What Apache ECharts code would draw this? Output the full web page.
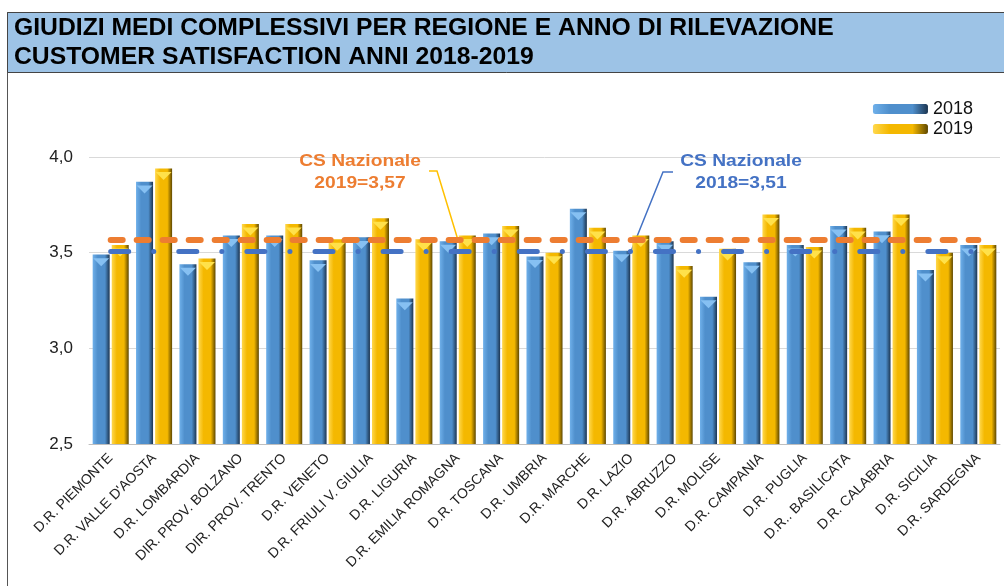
<!DOCTYPE html>
<html lang="it">
<head>
  <meta charset="UTF-8">
  <title>Giudizi medi complessivi</title>
  <style>
    html, body { margin: 0; padding: 0; background: #fff; }
    #main { width: 1004px; height: 586px; }
  </style>
</head>
<body>
  <div id="main"></div>
  <script src="https://cdn.jsdelivr.net/npm/echarts@6/dist/echarts.min.js"></script>
  <script>
    // dati
    const regioni = [
      'D.R. PIEMONTE', "D.R. VALLE D'AOSTA", 'D.R. LOMBARDIA', 'DIR. PROV. BOLZANO',
      'DIR. PROV. TRENTO', 'D.R. VENETO', 'D.R. FRIULI V. GIULIA', 'D.R. LIGURIA',
      'D.R. EMILIA ROMAGNA', 'D.R. TOSCANA', 'D.R. UMBRIA', 'D.R. MARCHE', 'D.R. LAZIO',
      'D.R. ABRUZZO', 'D.R. MOLISE', 'D.R. CAMPANIA', 'D.R. PUGLIA', 'D.R.. BASILICATA',
      'D.R. CALABRIA', 'D.R. SICILIA', 'D.R. SARDEGNA'
    ]
    const anni = ['2018', '2019']
    const val2018 = [3.49, 3.87, 3.44, 3.59, 3.59, 3.46, 3.58, 3.26, 3.56, 3.60, 3.48,
                     3.73, 3.51, 3.56, 3.27, 3.45, 3.54, 3.64, 3.61, 3.41, 3.54]
    const val2019 = [3.54, 3.94, 3.47, 3.65, 3.65, 3.57, 3.68, 3.57, 3.59, 3.64, 3.50,
                     3.63, 3.59, 3.43, 3.52, 3.70, 3.53, 3.63, 3.70, 3.50, 3.54]
    const csNazionale = { '2018': 3.51, '2019': 3.57 }
    const yTicks = [2.5, 3.0, 3.5, 4.0]

    const BLU = '#4472c4'
    const ARANCIO = '#ed7d31'
    const ORO = '#ffc000'
    const FONT = '"Liberation Sans", Arial, sans-serif'

    function grad(light, mid, dark) {
      return new echarts.graphic.LinearGradient(0, 0, 1, 0, [
        { offset: 0, color: light },
        { offset: 0.3, color: mid },
        { offset: 0.72, color: mid },
        { offset: 1, color: dark }
      ])
    }

    function refLine(val, colore, larghezza, tratto) {
      return [
        { coord: [regioni[0], val], lineStyle: { color: colore, width: larghezza, type: tratto, cap: 'round' } },
        { coord: [regioni[regioni.length - 1], val] }
      ]
    }

    function punta(nome, valori, colore) {
      return {
        name: nome,
        type: 'pictorialBar',
        data: valori,
        barWidth: 17,
        barGap: '12%',
        symbol: 'triangle',
        symbolRotate: 180,
        symbolSize: [16, 8],
        symbolPosition: 'end',
        symbolOffset: [0, '45%'],
        itemStyle: { color: colore },
        z: 3
      }
    }

    const myChart = echarts.init(document.getElementById('main'))

    const option = {
      animation: false,
      textStyle: { fontFamily: FONT },
      legend: {
        data: anni,
        orient: 'vertical',
        right: 26,
        top: 95,
        itemWidth: 55,
        itemHeight: 10,
        itemGap: 2,
        textStyle: { fontSize: 18, color: '#111' }
      },
      grid: { left: 89, right: 4, top: 157, bottom: 142 },
      xAxis: {
        type: 'category',
        data: regioni,
        axisLine: { lineStyle: { color: '#bfbfbf', width: 1 } },
        axisTick: { show: false },
        axisLabel: { interval: 0, rotate: 45, fontSize: 14, color: '#222', margin: 12 }
      },
      yAxis: {
        type: 'value',
        min: yTicks[0],
        max: yTicks[yTicks.length - 1],
        interval: 0.5,
        axisLine: { show: false },
        axisTick: { show: false },
        splitLine: { lineStyle: { color: '#d9d9d9', width: 1 } },
        axisLabel: {
          fontSize: 17, color: '#222', margin: 16,
          formatter: v => v.toFixed(1).replace('.', ',')
        }
      },
      series: [
        {
          name: '2018',
          type: 'bar',
          data: val2018,
          barWidth: 17,
          barGap: '12%',
          itemStyle: { color: grad('#6fb0ea', '#4f8fcc', '#1c3550') }
        },
        {
          name: '2019',
          type: 'bar',
          data: val2019,
          barWidth: 17,
          barGap: '12%',
          itemStyle: { color: grad('#ffd84d', '#f4b800', '#5e4700') }
        },
        // punta "a piramide" in cima alle barre
        punta('punta2018', val2018, '#86c0f2'),
        punta('punta2019', val2019, '#ffe14a'),
        // medie nazionali
        {
          name: 'CS Nazionale',
          type: 'line',
          data: [],
          z: 5,
          markLine: {
            silent: true,
            symbol: 'none',
            label: { show: false },
            data: [
              refLine(csNazionale['2018'], BLU, 5, [18, 25, 0.1, 25]),
              refLine(csNazionale['2019'], ARANCIO, 6, [12, 14])
            ]
          }
        }
      ]
    }
    myChart.setOption(option)

    // intestazione e annotazioni
    const pOr = myChart.convertToPixel({ seriesIndex: 1 }, ['D.R. EMILIA ROMAGNA', csNazionale['2019']])
    const pBl = myChart.convertToPixel({ seriesIndex: 0 }, ['D.R. LAZIO', csNazionale['2018']])
    const fmt = v => v.toFixed(2).replace('.', ',')

    function titolo(testo, y) {
      return {
        type: 'text', silent: true, x: 14, y: y, scaleX: 1.075,
        style: {
          text: testo, font: 'bold 23px ' + FONT, fill: '#000',
          align: 'left', verticalAlign: 'middle'
        }
      }
    }

    function nota(testo, x, colore) {
      return {
        type: 'text', silent: true, x: x, y: 173, scaleX: 1.2,
        style: {
          text: testo, font: 'bold 16px ' + FONT, fill: colore,
          align: 'center', verticalAlign: 'middle', lineHeight: 22
        }
      }
    }

    myChart.setOption({
      graphic: [
        {
          type: 'line', silent: true,
          shape: { x1: 7.5, y1: 12, x2: 7.5, y2: 586 },
          style: { stroke: '#555', lineWidth: 1 }
        },
        {
          type: 'rect', silent: true,
          shape: { x: 7.5, y: 12.5, width: 1000, height: 60 },
          style: { fill: '#9dc3e6', stroke: '#444', lineWidth: 1 }
        },
        titolo('GIUDIZI MEDI COMPLESSIVI PER REGIONE E ANNO DI RILEVAZIONE', 29),
        titolo('CUSTOMER SATISFACTION ANNI 2018-2019', 58),
        nota('CS Nazionale\n2019=' + fmt(csNazionale['2019']), 360, ARANCIO),
        {
          type: 'polyline', silent: true,
          shape: { points: [[429, 171], [437, 171], [pOr[0], pOr[1]]] },
          style: { stroke: ORO, lineWidth: 1.5, fill: null }
        },
        nota('CS Nazionale\n2018=' + fmt(csNazionale['2018']), 741, BLU),
        {
          type: 'polyline', silent: true,
          shape: { points: [[673, 172], [663, 172], [pBl[0], pBl[1]]] },
          style: { stroke: BLU, lineWidth: 1.5, fill: null }
        }
      ]
    })
  </script>
</body>
</html>
